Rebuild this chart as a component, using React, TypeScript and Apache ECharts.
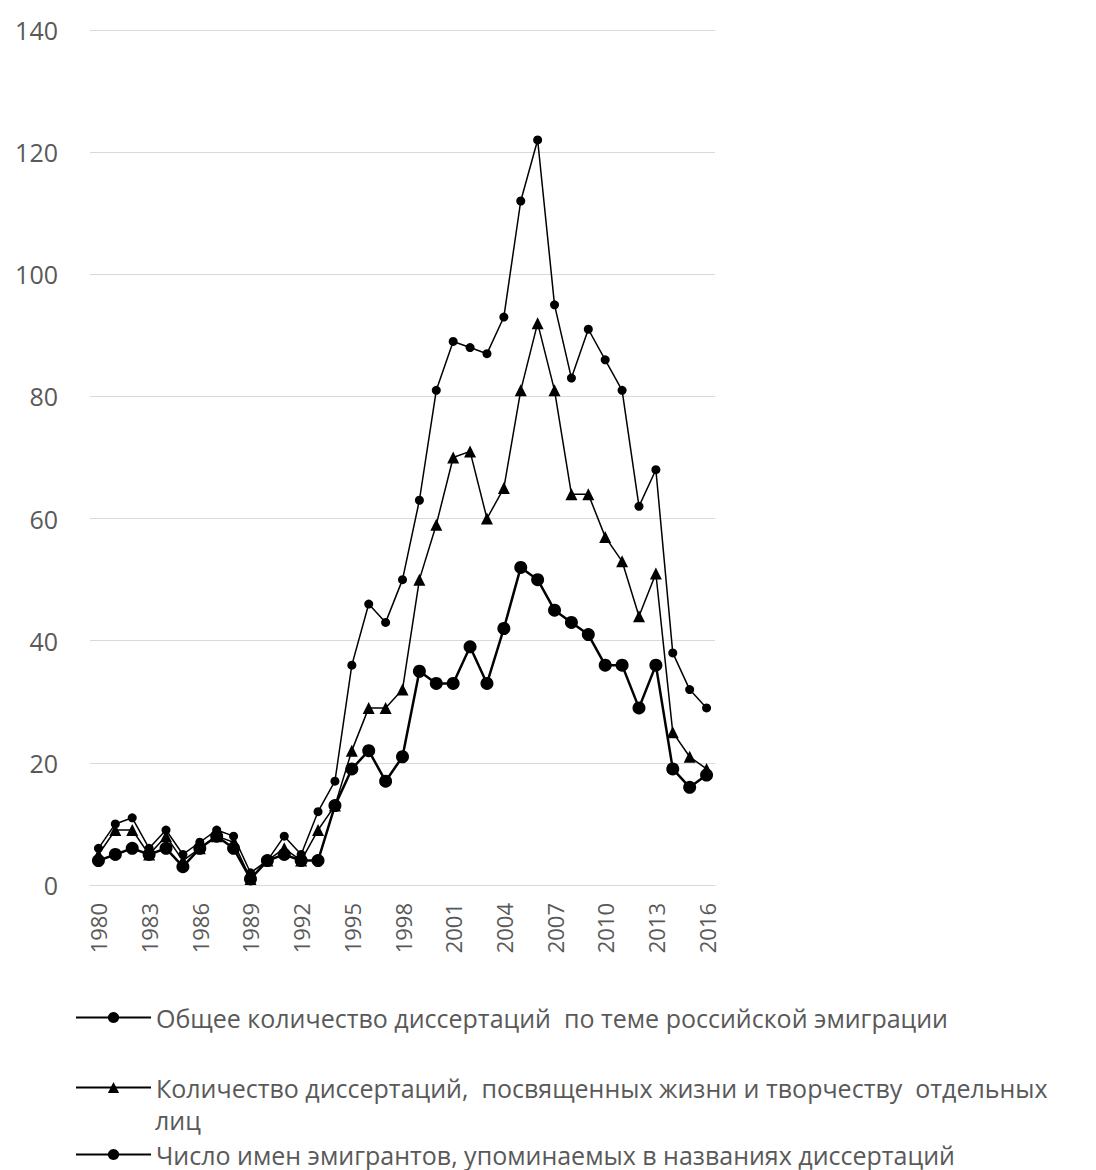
import React, { useEffect, useRef } from "react";
import * as echarts from "echarts";

const years: string[] = [];
for (let y = 1980; y <= 2016; y++) years.push(String(y));

const seriesNames = [
  "Общее количество диссертаций  по теме российской эмиграции",
  "Количество диссертаций,  посвященных жизни и творчеству  отдельных лиц",
  "Число имен эмигрантов, упоминаемых в названиях диссертаций",
];

const totalDiss = [
  6, 10, 11, 6, 9, 5, 7, 9, 8, 2, 4, 8, 5, 12, 17, 36, 46, 43, 50, 63, 81, 89, 88, 87, 93,
  112, 122, 95, 83, 91, 86, 81, 62, 68, 38, 32, 29,
];
const personDiss = [
  5, 9, 9, 5, 8, 4, 6, 8, 7, 1, 4, 6, 4, 9, 13, 22, 29, 29, 32, 50, 59, 70, 71, 60, 65,
  81, 92, 81, 64, 64, 57, 53, 44, 51, 25, 21, 19,
];
const emigrantNames = [
  4, 5, 6, 5, 6, 3, 6, 8, 6, 1, 4, 5, 4, 4, 13, 19, 22, 17, 21, 35, 33, 33, 39, 33, 42,
  52, 50, 45, 43, 41, 36, 36, 29, 36, 19, 16, 18,
];

const yTicks = { min: 0, max: 140, interval: 20 };

const FONT = "'Open Sans', 'Noto Sans', sans-serif";
const GREY = "#595959";

export default function App() {
  const ref = useRef<HTMLDivElement>(null);
  useEffect(() => {
    if (!ref.current) return;
    const chart = echarts.init(ref.current, undefined, { renderer: "svg" });
    const legendBase = (name: string, top: number, formatter?: any) => ({
      data: [name],
      left: 67,
      top,
      padding: 0,
      itemWidth: 75,
      itemHeight: 14,
      itemGap: 0,
      orient: "vertical",
      selectedMode: false,
      formatter,
      textStyle: {
        fontFamily: FONT,
        fontSize: 25,
        color: GREY,
        lineHeight: 22,
      },
    });
    chart.setOption({
      animation: false,
      backgroundColor: "#ffffff",
      grid: { left: 82, right: 373, top: 22, bottom: 285, containLabel: false },
      xAxis: {
        type: "category",
        data: years,
        boundaryGap: true,
        axisLine: { lineStyle: { color: "#d9d9d9", width: 1 } },
        axisTick: { show: false },
        axisLabel: {
          interval: 2,
          rotate: 90,
          margin: 18,
          fontFamily: FONT,
          fontSize: 22,
          color: GREY,
        },
      },
      yAxis: {
        type: "value",
        min: yTicks.min,
        max: yTicks.max,
        interval: yTicks.interval,
        axisLine: { show: false },
        axisTick: { show: false },
        splitLine: { lineStyle: { color: "#d9d9d9", width: 1 } },
        axisLabel: { margin: 32, fontFamily: FONT, fontSize: 25, color: GREY },
      },
      legend: [
        legendBase(seriesNames[0], 997),
        legendBase(seriesNames[1], 1067, (n: string) => n.replace(/\s*лиц$/, "")),
        legendBase(seriesNames[2], 1134),
      ],
      graphic: [
        {
          type: "text",
          x: 147,
          y: 1112,
          style: {
            text: "лиц",
            fontFamily: FONT,
            fontSize: 25,
            lineHeight: 22,
            fill: GREY,
            verticalAlign: "middle",
          },
        },
      ],
      series: [
        {
          name: seriesNames[0],
          type: "line",
          data: totalDiss,
          symbol: "circle",
          symbolSize: 9,
          showAllSymbol: true,
          lineStyle: { color: "#000", width: 1.5 },
          itemStyle: { color: "#000" },
        },
        {
          name: seriesNames[1],
          type: "line",
          data: personDiss,
          symbol: "triangle",
          symbolSize: 12,
          showAllSymbol: true,
          lineStyle: { color: "#000", width: 1.5 },
          itemStyle: { color: "#000" },
        },
        {
          name: seriesNames[2],
          type: "line",
          data: emigrantNames,
          symbol: "circle",
          symbolSize: 13,
          showAllSymbol: true,
          lineStyle: { color: "#000", width: 2.5 },
          itemStyle: { color: "#000" },
        },
      ],
    });
    return () => chart.dispose();
  }, []);
  return <div ref={ref} style={{ width: 1080, height: 1162 }} />;
}
